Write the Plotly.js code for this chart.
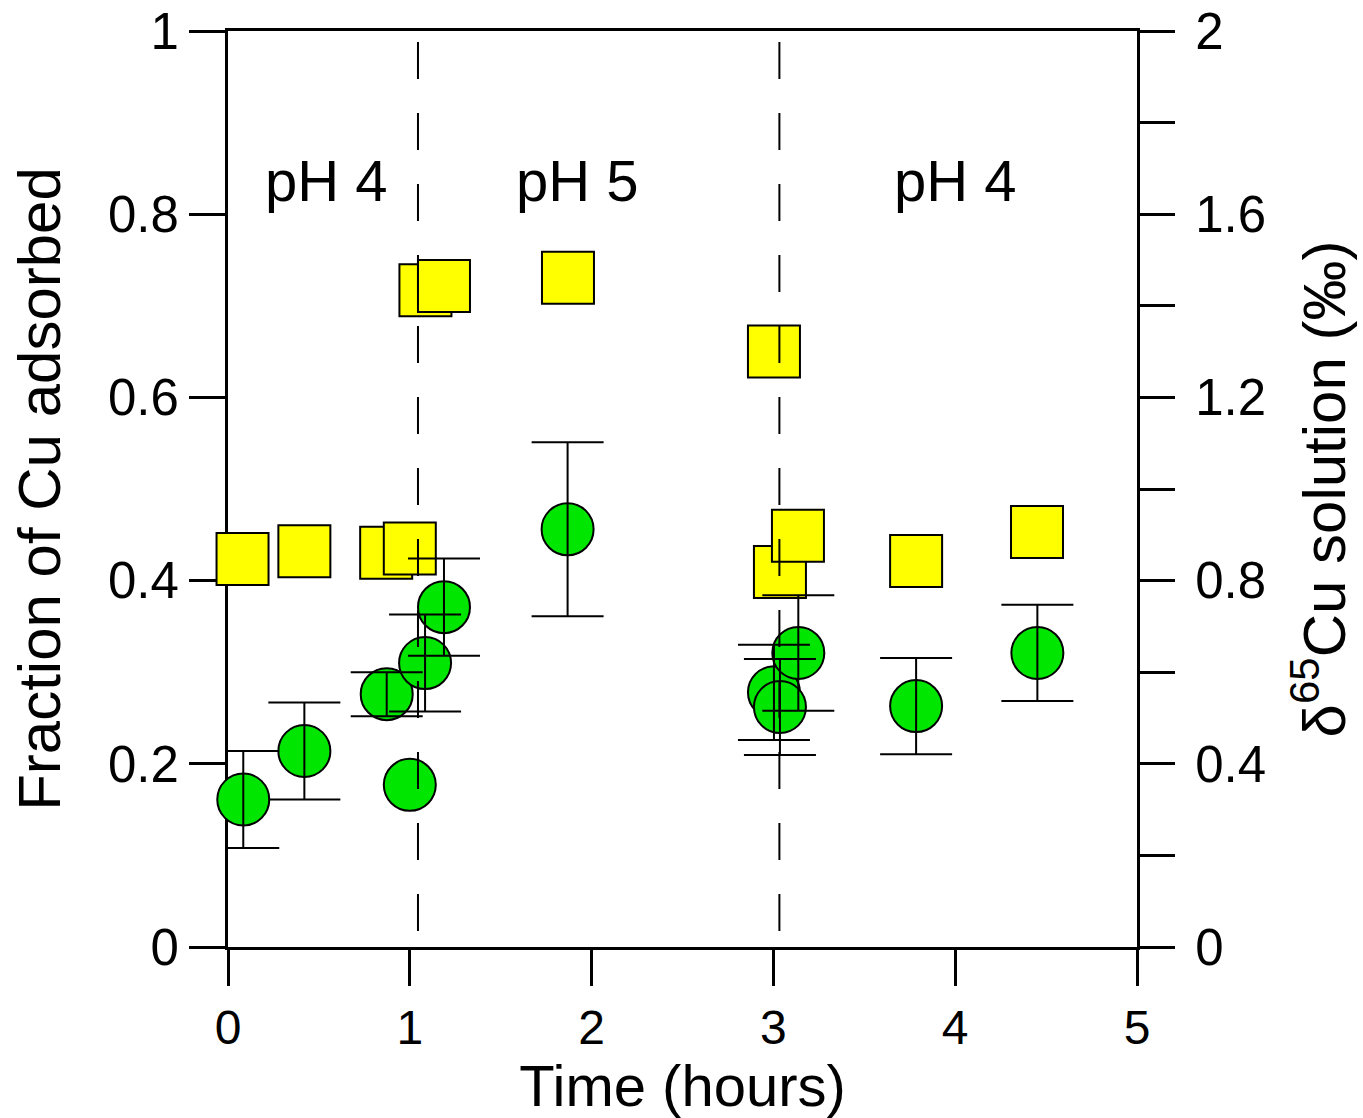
<!DOCTYPE html>
<html>
<head>
<meta charset="utf-8">
<script src="https://cdn.plot.ly/plotly-3.0.1.min.js"></script>
<style>html,body{margin:0;padding:0;background:#fff;}#chart{width:1363px;height:1118px;}</style>
</head>
<body>
<div id="chart"></div>
<script>
// Fraction of Cu adsorbed (green circles, left axis)
const circleTime   = [0.084, 0.42, 0.873, 1.0, 1.084, 1.188, 1.868, 3.003, 3.036, 3.137, 3.785, 4.452];
const fraction     = [0.161, 0.214, 0.276, 0.177, 0.310, 0.371, 0.456, 0.278, 0.262, 0.321, 0.263, 0.321];
const fractionErr  = [0.053, 0.053, 0.024, NaN, 0.053, 0.053, 0.095, 0.052, 0.0525, 0.063, 0.0525, 0.0525];

// delta65Cu of solution (yellow squares, right axis)
const squareTime   = [0.08, 0.42, 0.87, 1.0, 1.086, 1.188, 1.87, 3.003, 3.036, 3.135, 3.785, 4.45];
const delta65Cu    = [0.847, 0.864, 0.861, 0.870, 1.434, 1.443, 1.461, 1.300, 0.819, 0.898, 0.843, 0.906];

// pH step changes (dashed lines) and labels
const phChangeTimes = [1.045, 3.033];
const phLabels      = ['pH 4', 'pH 5', 'pH 4'];
const phLabelTimes  = [0.54, 1.925, 4.0];

const FONT = 'Liberation Sans, Arial, Helvetica, sans-serif';

const traces = [
  {
    x: squareTime, y: delta65Cu, xaxis: 'x', yaxis: 'y',
    type: 'scatter', mode: 'markers', cliponaxis: false, hoverinfo: 'x+y',
    marker: {symbol: 'square', size: 52, color: '#ffff00', line: {color: '#000', width: 2}}
  },
  {
    x: circleTime, y: fraction, xaxis: 'x', yaxis: 'y2',
    type: 'scatter', mode: 'markers', cliponaxis: false, hoverinfo: 'x+y',
    marker: {symbol: 'circle', size: 52, color: '#00e600', line: {color: '#000', width: 2}}
  },
  {
    x: circleTime, y: fraction, xaxis: 'x', yaxis: 'y2',
    type: 'scatter', mode: 'markers', cliponaxis: false, hoverinfo: 'skip',
    marker: {size: 2, color: 'rgba(0,0,0,0)'},
    error_y: {type: 'data', array: fractionErr, visible: true, color: '#000', thickness: 2, width: 36}
  }
];

const shapes = phChangeTimes.map(t => ({
  type: 'line', xref: 'x', yref: 'paper', x0: t, x1: t, y0: 0.988, y1: 0.005,
  layer: 'above', line: {color: '#000', width: 2, dash: '37px,34px'}
}));

const annotations = phLabels.map((txt, i) => ({
  text: txt, xref: 'x', yref: 'paper', x: phLabelTimes[i], y: 0.837,
  xanchor: 'center', yanchor: 'middle', showarrow: false,
  font: {family: FONT, size: 58, color: '#000'}
}));

const layout = {
  width: 1363, height: 1118,
  margin: {l: 228, r: 226, t: 31, b: 171},
  paper_bgcolor: '#fff', plot_bgcolor: '#fff',
  showlegend: false,
  font: {family: FONT, color: '#000'},
  xaxis: {
    range: [0, 5], dtick: 1, tick0: 0,
    showline: true, mirror: true, linewidth: 3, linecolor: '#000',
    ticks: 'outside', ticklen: 36, tickwidth: 3, tickcolor: '#000',
    showgrid: false, zeroline: false, layer: 'below traces',
    tickfont: {family: FONT, size: 48},
    title: {text: 'Time (hours)', font: {family: FONT, size: 58}, standoff: 12}
  },
  yaxis: {
    range: [0, 2], dtick: 0.4, tick0: 0, side: 'right',
    showline: true, linewidth: 3, linecolor: '#000',
    ticks: 'outside', ticklen: 35, tickwidth: 3, tickcolor: '#000',
    ticklabelstandoff: 10,
    minor: {dtick: 0.2, tick0: 0, ticks: 'outside', ticklen: 35, tickwidth: 3, tickcolor: '#000', showgrid: false},
    showgrid: false, zeroline: false, layer: 'below traces',
    tickfont: {family: FONT, size: 51},
    title: {text: 'δ<sup>65</sup>Cu solution (‰)', font: {family: FONT, size: 60}, standoff: 38}
  },
  yaxis2: {
    range: [0, 1], dtick: 0.2, tick0: 0, side: 'left', overlaying: 'y',
    showline: true, linewidth: 3, linecolor: '#000',
    ticks: 'outside', ticklen: 36, tickwidth: 3, tickcolor: '#000',
    showgrid: false, zeroline: false, layer: 'below traces',
    tickfont: {family: FONT, size: 51},
    title: {text: 'Fraction of Cu adsorbed', font: {family: FONT, size: 60}, standoff: 28}
  },
  shapes: shapes,
  annotations: annotations
};

Plotly.newPlot('chart', traces, layout, {displayModeBar: false, responsive: false});
</script>
</body>
</html>
